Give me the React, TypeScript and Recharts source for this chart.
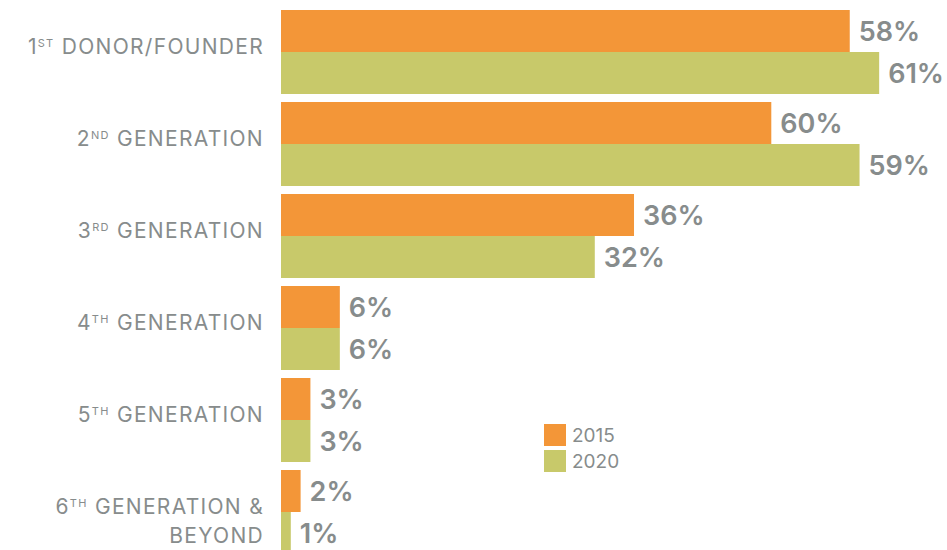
import React from 'react';
import { BarChart, Bar, XAxis, YAxis, LabelList } from 'recharts';

const categories = ['1ST DONOR/FOUNDER', '2ND GENERATION', '3RD GENERATION', '4TH GENERATION', '5TH GENERATION', '6TH GENERATION & BEYOND'];
const values2015 = [58, 50, 36, 6, 3, 2];
const values2020 = [61, 59, 32, 6, 3, 1];
const labels2015 = ['58%', '60%', '36%', '6%', '3%', '2%'];
const labels2020 = ['61%', '59%', '32%', '6%', '3%', '1%'];
const seriesNames = ['2015', '2020'];

const ORANGE = '#F39638';
const GREEN = '#C8C96A';
const GREY = '#878C8C';
const FONT = 'Inter, sans-serif';

const data = categories.map((name, i) => ({
  name,
  y2015: values2015[i],
  y2020: values2020[i],
  l2015: labels2015[i],
  l2020: labels2020[i],
}));

// split "1ST DONOR" into number, ordinal suffix and the rest
const splitLabel = (label: string) => {
  const m = label.match(/^(\d)([A-Z]{2}) (.*)$/);
  if (!m) return { num: label, sup: '', rest: '' };
  return { num: m[1], sup: m[2], rest: m[3] };
};

const tickText = { textAnchor: 'end' as const, fill: GREY, fontSize: 21, fontFamily: FONT, letterSpacing: 1.3 };

const CategoryTick = (props: any) => {
  const { y, payload } = props;
  const { num, sup, rest } = splitLabel(payload.value);
  const x = 264;
  if (rest.endsWith('& BEYOND')) {
    return (
      <g>
        <text x={x} y={y + 2} {...tickText}>
          {num}
          <tspan fontSize={11} dy={-7}>{sup}</tspan>
          <tspan dy={7}>{' ' + rest.replace(' BEYOND', '')}</tspan>
        </text>
        <text x={x} y={y + 31.5} {...tickText}>
          BEYOND
        </text>
      </g>
    );
  }
  return (
    <text x={x} y={y + 2.5} {...tickText}>
      {num}
      <tspan fontSize={11} dy={-7}>{sup}</tspan>
      <tspan dy={7}>{' ' + rest}</tspan>
    </text>
  );
};

const ValueLabel = (props: any) => {
  const { x, y, width, height, value } = props;
  return (
    <text x={x + width + 9} y={y + height / 2 + 10} fill={GREY} fontSize={27} fontWeight={600} fontFamily={FONT}>
      {value}
    </text>
  );
};

const LegendBox = () => (
  <div style={{ position: 'absolute', left: 544, top: 422, fontFamily: FONT, fontSize: 19, color: GREY }}>
    {seriesNames.map((label, i) => (
      <div key={label} style={{ display: 'flex', alignItems: 'center', height: 26 }}>
        <div style={{ width: 22, height: 22, background: i === 0 ? ORANGE : GREEN, marginRight: 6 }} />
        <span>{label}</span>
      </div>
    ))}
  </div>
);

export default function App() {
  return (
    <div style={{ position: 'absolute', left: 0, top: 0, width: 947, height: 550, overflow: 'hidden', background: '#fff' }}>
      <BarChart
        width={947}
        height={560}
        data={data}
        layout="vertical"
        margin={{ top: 5.5, right: 9, bottom: 2.5, left: 0 }}
        barGap={0}
        barCategoryGap={4.5}
      >
        <XAxis type="number" domain={[0, 67]} hide />
        <YAxis
          type="category"
          dataKey="name"
          width={281}
          axisLine={false}
          tickLine={false}
          interval={0}
          tick={<CategoryTick />}
        />
        <Bar dataKey="y2015" fill={ORANGE} isAnimationActive={false}>
          <LabelList dataKey="l2015" content={<ValueLabel />} />
        </Bar>
        <Bar dataKey="y2020" fill={GREEN} isAnimationActive={false}>
          <LabelList dataKey="l2020" content={<ValueLabel />} />
        </Bar>
      </BarChart>
      <LegendBox />
    </div>
  );
}
